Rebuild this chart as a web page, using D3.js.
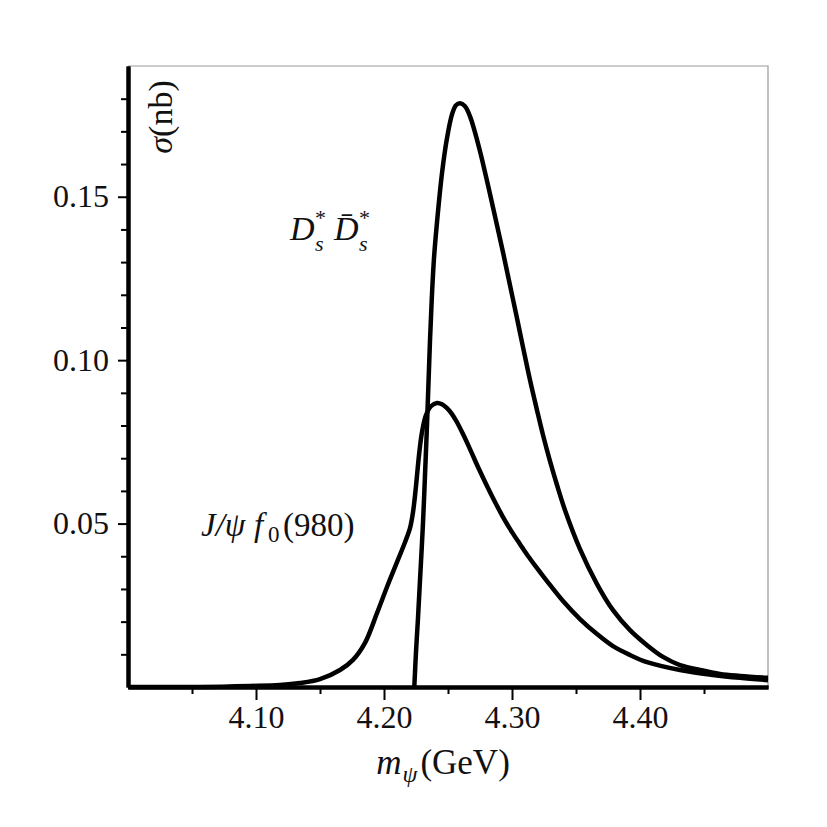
<!DOCTYPE html>
<html><head><meta charset="utf-8">
<script src="https://cdn.jsdelivr.net/npm/d3@7"></script>
<style>
body{margin:0;background:#fff;}
svg text{font-family:"Liberation Serif","DejaVu Serif",serif;fill:#111;}
</style></head>
<body><svg id="c" width="827" height="827"></svg>
<script>
// J/psi f0(980) curve
const jpsiX = [4.0,4.05625,4.09531,4.11875,4.13438,4.15,4.16563,4.17578,4.18516,4.19453,4.20234,4.21016,4.21641,4.22031,4.22266,4.225,4.22734,4.22969,4.23281,4.23672,4.24141,4.24531,4.24922,4.25313,4.25703,4.26172,4.26719,4.27344,4.28047,4.28672,4.29297,4.3,4.30625,4.3125,4.31953,4.32734,4.33984,4.35313,4.36641,4.37891,4.39219,4.40547,4.43125,4.45703,4.47813,4.5];
const jpsiY = [0,0,0.0003,0.0006,0.0012,0.0024,0.0052,0.0083,0.0135,0.0226,0.0306,0.0382,0.0443,0.0486,0.0535,0.0615,0.0709,0.0780,0.0832,0.0859,0.0869,0.0865,0.0853,0.0835,0.0810,0.0774,0.0728,0.0673,0.0615,0.0566,0.0520,0.0474,0.0437,0.0401,0.0364,0.0324,0.0263,0.0208,0.0162,0.0125,0.0098,0.0076,0.0052,0.0037,0.0028,0.0021];
// Ds* Dsbar* curve
const dsX = [4.22367,4.225,4.22656,4.22813,4.23047,4.23203,4.23359,4.23594,4.2375,4.23906,4.24141,4.24531,4.24922,4.25313,4.25625,4.25938,4.26328,4.26719,4.27109,4.275,4.27891,4.28281,4.28828,4.29297,4.29844,4.30391,4.30859,4.31406,4.31953,4.32422,4.32969,4.33516,4.34141,4.35313,4.36641,4.37891,4.39219,4.40547,4.41797,4.43125,4.44688,4.4625,4.47813,4.5];
const dsY = [0,0.0107,0.0211,0.0327,0.0502,0.0648,0.0801,0.1061,0.1202,0.1312,0.1422,0.1572,0.1679,0.1752,0.1780,0.1786,0.1777,0.1746,0.1697,0.1639,0.1575,0.1508,0.1413,0.1330,0.1229,0.1128,0.1040,0.0939,0.0847,0.0771,0.0691,0.0618,0.0541,0.0422,0.0315,0.0235,0.0174,0.0128,0.0092,0.0067,0.0052,0.0040,0.0034,0.0028];
const xMajor = [4.10,4.20,4.30,4.40];
const xMinor = [4.05,4.15,4.25,4.35,4.45];
const yMajor = [0.05,0.10,0.15];
const yMinor = [0.01,0.02,0.03,0.04,0.06,0.07,0.08,0.09,0.11,0.12,0.13,0.14,0.16,0.17,0.18];

const svg = d3.select("#c");
const L=128,R=768,T=66,B=687;
const x = d3.scaleLinear().domain([4.0,4.5]).range([L,R]);
const y = d3.scaleLinear().domain([0,0.19]).range([B,T]);

// frame (top/right)
svg.append("path").attr("d",`M${L},${T}H${R}V${B}`).attr("fill","none").attr("stroke","#999").attr("stroke-width",1.2);

// x axis
const gx = svg.append("g").attr("transform",`translate(0,${B})`);
gx.call(d3.axisBottom(x).tickValues(xMinor).tickSize(7).tickSizeOuter(0).tickFormat(""));
const gx2 = svg.append("g").attr("transform",`translate(0,${B})`);
gx2.call(d3.axisBottom(x).tickValues(xMajor).tickSize(13).tickSizeOuter(0).tickFormat(d3.format(".2f")).tickPadding(5));
[gx,gx2].forEach(g=>{g.selectAll(".tick line").attr("stroke","#000").attr("stroke-width",2);
  g.select(".domain").attr("stroke","#000").attr("stroke-width",4);});
gx2.selectAll(".tick text").attr("font-size",32).attr("fill","#111").style("font-family","Liberation Serif");

// y axis
const gy = svg.append("g").attr("transform",`translate(${L},0)`);
gy.call(d3.axisLeft(y).tickValues(yMinor).tickSize(7).tickSizeOuter(0).tickFormat(""));
const gy2 = svg.append("g").attr("transform",`translate(${L},0)`);
gy2.call(d3.axisLeft(y).tickValues(yMajor).tickSize(10).tickSizeOuter(0).tickFormat(d3.format(".2f")).tickPadding(9));
[gy,gy2].forEach(g=>{g.selectAll(".tick line").attr("stroke","#000").attr("stroke-width",2);
  g.select(".domain").attr("stroke","#000").attr("stroke-width",4);});
gy2.selectAll(".tick text").attr("font-size",32).attr("fill","#111").style("font-family","Liberation Serif");

// curves
const line = d3.line().x(d=>x(d[0])).y(d=>y(d[1])).curve(d3.curveCatmullRom.alpha(0.5));
svg.append("path").datum(jpsiX.map((v,i)=>[v,jpsiY[i]])).attr("d",line)
  .attr("fill","none").attr("stroke","#000").attr("stroke-width",4.5).attr("stroke-linejoin","round");
svg.append("path").datum(dsX.map((v,i)=>[v,dsY[i]])).attr("d",line)
  .attr("fill","none").attr("stroke","#000").attr("stroke-width",4.5).attr("stroke-linejoin","round");

// axis labels
const yl = svg.append("text").attr("transform","translate(172,117) rotate(-90)").attr("text-anchor","middle").attr("font-size",34);
yl.append("tspan").attr("font-style","italic").text("σ");
yl.append("tspan").text("(nb)");

const xl = svg.append("text").attr("x",443).attr("y",774).attr("text-anchor","middle").attr("font-size",35);
xl.append("tspan").attr("font-style","italic").text("m");
xl.append("tspan").attr("font-style","italic").attr("font-size",24).attr("dy",8).attr("dx",1).text("ψ");
xl.append("tspan").attr("dy",-8).attr("dx",3).text("(GeV)");

// annotations
const a1 = svg.append("text").attr("font-size",34);
a1.append("tspan").attr("x",290).attr("y",240).attr("font-style","italic").text("D");
a1.append("tspan").attr("x",315).attr("y",225).attr("font-size",22).text("*");
a1.append("tspan").attr("x",315).attr("y",251).attr("font-style","italic").attr("font-size",22).text("s");
a1.append("tspan").attr("x",334).attr("y",240).attr("font-style","italic").text("D\u0304");
a1.append("tspan").attr("x",359).attr("y",225).attr("font-size",22).text("*");
a1.append("tspan").attr("x",359).attr("y",251).attr("font-style","italic").attr("font-size",22).text("s");

const a2 = svg.append("text").attr("font-size",33);
a2.append("tspan").attr("x",201).attr("y",536).attr("font-style","italic").text("J/ψ");
a2.append("tspan").attr("x",254).attr("y",536).attr("font-style","italic").text("f");
a2.append("tspan").attr("x",268).attr("y",542).attr("font-size",23).text("0");
a2.append("tspan").attr("x",283).attr("y",536).text("(980)");
</script></body></html>
